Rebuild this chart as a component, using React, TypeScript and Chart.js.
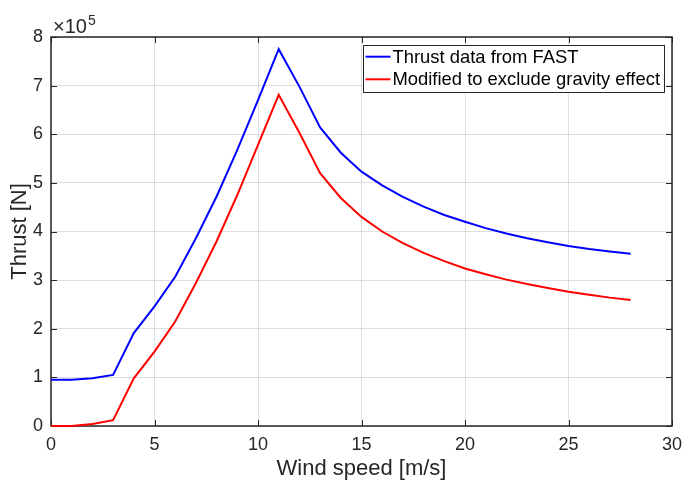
import React, { useEffect, useRef } from "react";
import { Chart, registerables } from "chart.js";

Chart.register(...registerables);

// Wind speed [m/s]
const windSpeed = [0, 1, 2, 3, 4, 5, 6, 7, 8, 9, 10, 11, 12, 13, 14, 15, 16, 17, 18, 19, 20, 21, 22, 23, 24, 25, 26, 27, 28];
// Thrust data from FAST [N]
const thrustFast = [95000, 95000, 98000, 105000, 191000, 246000, 307000, 386000, 472000, 568000, 670000, 775000, 698000, 614000, 562000, 523000, 495000, 471000, 451000, 434000, 420000, 407000, 396000, 386000, 378000, 370000, 364000, 359000, 354000];
// Modified to exclude gravity effect [N]
const thrustModified = [0, 0, 4000, 12000, 98000, 153000, 215000, 294000, 380000, 475000, 578000, 681000, 603000, 520000, 469000, 430000, 400000, 376000, 356000, 339000, 324000, 312000, 301000, 292000, 284000, 276000, 270000, 264000, 259000];

const seriesLabels = ["Thrust data from FAST", "Modified to exclude gravity effect"];
const seriesColors = ["#0000ff", "#ff0000"];
const xTitle = "Wind speed [m/s]";
const yTitle = "Thrust [N]";
const yExponent = 5;

const FONT = '"Liberation Sans", Arial, Helvetica, sans-serif';
const AXIS = "#262626";
const GRID = "rgba(38,38,38,0.15)";

const matlabPlugin = {
  id: "matlabBox",
  beforeDatasetsDraw(chart: any) {
    const { ctx, chartArea, scales } = chart;
    const { left, right, top, bottom } = chartArea;
    ctx.save();
    ctx.strokeStyle = AXIS;
    ctx.lineWidth = 1;
    const tl = 6;
    ctx.beginPath();
    scales.x.ticks.forEach((t: any) => {
      const px = Math.round(scales.x.getPixelForValue(t.value)) + 0.5;
      ctx.moveTo(px, bottom);
      ctx.lineTo(px, bottom - tl);
      ctx.moveTo(px, top);
      ctx.lineTo(px, top + tl);
    });
    scales.y.ticks.forEach((t: any) => {
      const py = Math.round(scales.y.getPixelForValue(t.value)) + 0.5;
      ctx.moveTo(left, py);
      ctx.lineTo(left + tl, py);
      ctx.moveTo(right, py);
      ctx.lineTo(right - tl, py);
    });
    ctx.stroke();
    ctx.lineWidth = 1.5;
    ctx.strokeRect(left, top, right - left, bottom - top);
    ctx.restore();
  },
  afterDraw(chart: any) {
    const { ctx, chartArea } = chart;
    const { left, right, top } = chartArea;
    ctx.save();
    // exponent label
    ctx.fillStyle = AXIS;
    ctx.textBaseline = "alphabetic";
    ctx.textAlign = "left";
    ctx.font = `20px ${FONT}`;
    const base = "\u00d710";
    ctx.fillText(base, left + 2, top - 4);
    const bw = ctx.measureText(base).width;
    ctx.font = `14px ${FONT}`;
    ctx.fillText(String(yExponent), left + 2 + bw + 1, top - 12);

    // legend
    ctx.font = `18.4px ${FONT}`;
    const widths = chart.data.datasets.map((d: any) => ctx.measureText(d.label).width);
    const maxW = Math.max(...widths);
    const lineLen = 25;
    const boxW = 3 + lineLen + 2 + maxW + 4;
    const rowH = 22.6;
    const boxH = 47;
    const bx = right - 8 - boxW;
    const by = top + 8;
    ctx.fillStyle = "#ffffff";
    ctx.fillRect(bx, by, boxW, boxH);
    ctx.strokeStyle = AXIS;
    ctx.lineWidth = 1;
    ctx.strokeRect(Math.round(bx) + 0.5, Math.round(by) + 0.5, Math.round(boxW), Math.round(boxH));
    chart.data.datasets.forEach((d: any, i: number) => {
      const cy = by + 11.7 + i * rowH;
      ctx.strokeStyle = d.borderColor;
      ctx.lineWidth = 2;
      ctx.beginPath();
      ctx.moveTo(bx + 3, cy);
      ctx.lineTo(bx + 3 + lineLen, cy);
      ctx.stroke();
      ctx.fillStyle = "#000000";
      ctx.textBaseline = "middle";
      ctx.fillText(d.label, bx + 3 + lineLen + 2, cy + 1);
    });
    ctx.restore();
  },
};

export default function App() {
  const canvasRef = useRef<HTMLCanvasElement | null>(null);

  useEffect(() => {
    const canvas = canvasRef.current;
    if (!canvas) return;
    const chart = new Chart(canvas, {
      type: "line",
      data: {
        datasets: [
          {
            label: seriesLabels[0],
            data: windSpeed.map((x, i) => ({ x, y: thrustFast[i] })),
            borderColor: seriesColors[0],
            backgroundColor: seriesColors[0],
            borderWidth: 2,
            pointRadius: 0,
            tension: 0,
            clip: 4,
          },
          {
            label: seriesLabels[1],
            data: windSpeed.map((x, i) => ({ x, y: thrustModified[i] })),
            borderColor: seriesColors[1],
            backgroundColor: seriesColors[1],
            borderWidth: 2,
            pointRadius: 0,
            tension: 0,
            clip: 4,
          },
        ],
      },
      options: {
        responsive: false,
        animation: false,
        devicePixelRatio: 1,
        layout: { padding: { left: 0, right: 13, top: 37, bottom: 0 } },
        plugins: {
          legend: { display: false },
          tooltip: { enabled: false },
        },
        scales: {
          x: {
            type: "linear",
            min: 0,
            max: 30,
            afterFit: (s: any) => {
              s.height = 54;
              s.paddingLeft = 0;
              s.paddingRight = 0;
            },
            ticks: {
              stepSize: 5,
              color: AXIS,
              font: { family: FONT, size: 18 },
              padding: 8,
              maxRotation: 0,
            },
            grid: { color: GRID, lineWidth: 1, drawTicks: false },
            border: { display: false },
            title: {
              display: true,
              text: xTitle,
              color: AXIS,
              font: { family: FONT, size: 22, lineHeight: 1.0 },
              padding: { top: 0, bottom: 0 },
            },
          },
          y: {
            type: "linear",
            min: 0,
            max: 800000,
            afterFit: (s: any) => {
              s.width = 51;
              s.paddingTop = 0;
              s.paddingBottom = 0;
            },
            ticks: {
              stepSize: 100000,
              color: AXIS,
              font: { family: FONT, size: 18 },
              padding: 8,
              callback: (v: any) => String(Math.round(Number(v) / Math.pow(10, yExponent))),
            },
            grid: { color: GRID, lineWidth: 1, drawTicks: false },
            border: { display: false },
            title: {
              display: true,
              text: yTitle,
              color: AXIS,
              font: { family: FONT, size: 22, lineHeight: 1.2 },
              padding: { top: 7, bottom: 0 },
            },
          },
        },
      },
      plugins: [matlabPlugin],
    });
    return () => chart.destroy();
  }, []);

  return (
    <div style={{ position: "absolute", left: 0, top: 0, width: 685, height: 480, background: "#fff" }}>
      <canvas ref={canvasRef} width={685} height={480} style={{ display: "block" }} />
    </div>
  );
}
